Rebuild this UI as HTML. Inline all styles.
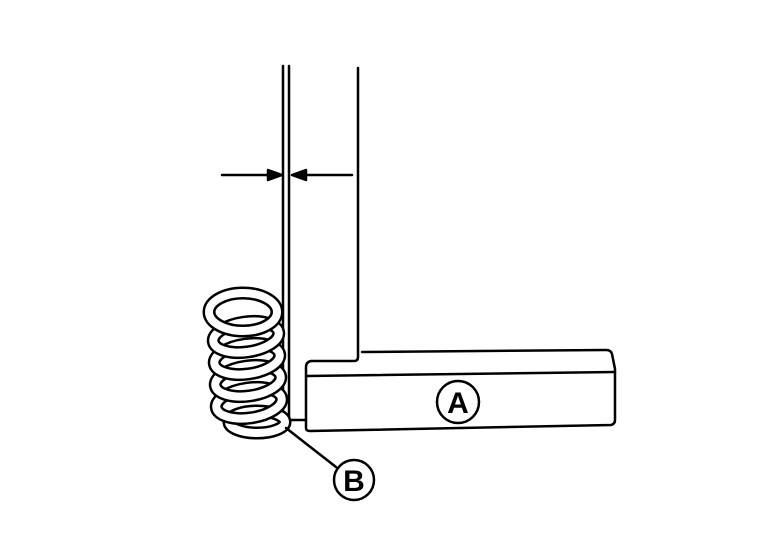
<!DOCTYPE html>
<html><head><style>html,body{margin:0;padding:0;background:#fff}svg{display:block}</style></head>
<body>
<svg width="768" height="544" viewBox="0 0 768 544" xmlns="http://www.w3.org/2000/svg" fill="none" stroke="#000" stroke-width="2.5" stroke-linecap="round" stroke-linejoin="round">
<line x1="283" y1="66" x2="283" y2="420"/>
<path d="M289 66 V420 H305"/>
<path d="M358 68 V357 Q358 361 354 361 H311 Q306 362 306 367 V428 Q306 431 310 431 L611 425 Q615 424 615 420 V369 L612 354 Q611 350 606 350 L362 352"/>
<line x1="307" y1="376" x2="615" y2="372"/>
<line x1="222" y1="175" x2="272" y2="175"/>
<polygon points="282,175 268,170 268,180" fill="#000"/>
<line x1="303" y1="175" x2="352" y2="175"/>
<polygon points="292,175 306,170 306,180" fill="#000"/>
<g>
<ellipse cx="257" cy="422" rx="28" ry="11" stroke="#000" stroke-width="13"/>
<ellipse cx="257" cy="422" rx="28" ry="11" stroke="#fff" stroke-width="8"/>
<ellipse cx="249" cy="403" rx="33" ry="15" stroke="#000" stroke-width="13" transform="rotate(-8 249 403)"/>
<ellipse cx="249" cy="403" rx="33" ry="15" stroke="#fff" stroke-width="8" transform="rotate(-8 249 403)"/>
<ellipse cx="248" cy="381" rx="33" ry="15" stroke="#000" stroke-width="13" transform="rotate(-8 248 381)"/>
<ellipse cx="248" cy="381" rx="33" ry="15" stroke="#fff" stroke-width="8" transform="rotate(-8 248 381)"/>
<ellipse cx="247" cy="359" rx="33" ry="15" stroke="#000" stroke-width="13" transform="rotate(-8 247 359)"/>
<ellipse cx="247" cy="359" rx="33" ry="15" stroke="#fff" stroke-width="8" transform="rotate(-8 247 359)"/>
<ellipse cx="246" cy="337" rx="33" ry="15" stroke="#000" stroke-width="13" transform="rotate(-8 246 337)"/>
<ellipse cx="246" cy="337" rx="33" ry="15" stroke="#fff" stroke-width="8" transform="rotate(-8 246 337)"/>
<ellipse cx="243" cy="312" rx="34" ry="19" stroke="#000" stroke-width="13"/>
<ellipse cx="243" cy="312" rx="34" ry="19" stroke="#fff" stroke-width="8"/>
</g>
<line x1="286" y1="428" x2="336" y2="467"/>
<circle cx="354" cy="480" r="20" fill="#fff"/>
<circle cx="458" cy="402" r="21" fill="#fff"/>
<g fill="#000" stroke="none" font-family="Liberation Sans, sans-serif" font-size="30" font-weight="bold" text-anchor="middle">
<text x="458" y="413">A</text>
<text x="354" y="491">B</text>
</g>
</svg>
</body></html>
